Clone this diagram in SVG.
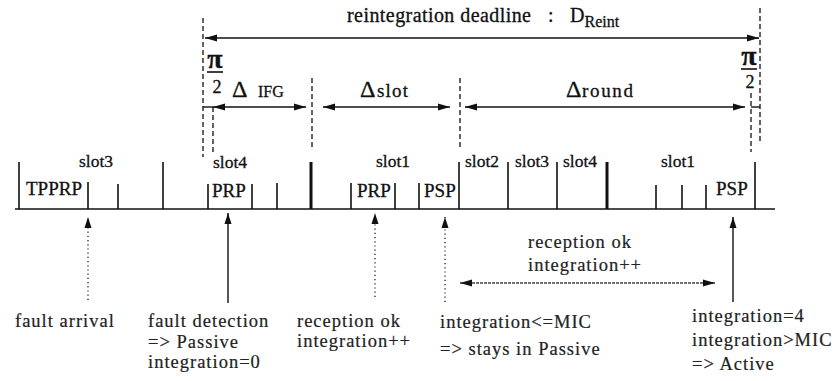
<svg xmlns="http://www.w3.org/2000/svg" width="838" height="381" viewBox="0 0 838 381">
<style>
text{font-family:"Liberation Serif","Times New Roman",serif;fill:#111;stroke:#111;stroke-width:0.3}
.slot{font-size:17.5px}
.fr{font-size:19px}
.lab{font-size:18.5px;letter-spacing:1px;fill:#222;stroke:#222;stroke-width:0.2}
.delta{font-size:24px}
.tk{stroke:#111;stroke-width:1.6}
.thick{stroke:#111;stroke-width:3}
.dash{stroke:#111;stroke-width:1.3;stroke-dasharray:5,3;fill:none}
.dim{stroke:#111;stroke-width:1.4;fill:none}
.dot{stroke:#333;stroke-width:1.4;stroke-dasharray:1.2,3;fill:none}
</style>
<defs>
<marker id="ah" markerUnits="userSpaceOnUse" markerWidth="13" markerHeight="8" refX="12" refY="4" orient="auto-start-reverse" viewBox="0 0 13 8">
<path d="M0,0.5 L12,4 L0,7.5 z" fill="#111"/>
</marker>
<marker id="av" markerUnits="userSpaceOnUse" markerWidth="8" markerHeight="12" refX="4" refY="0" orient="0" viewBox="0 0 8 12">
<path d="M4,0 L7.5,11 L0.5,11 z" fill="#111"/>
</marker>
</defs>
<rect width="838" height="381" fill="#fff"/>

<g id="timeline">
<line x1="15" y1="209" x2="775" y2="209" class="tk"/>
<g id="ticks-tall">
<line x1="19" y1="162" x2="19" y2="209" class="tk"/>
<line x1="163" y1="162" x2="163" y2="209" class="tk"/>
<line x1="311" y1="162" x2="311" y2="209" class="thick"/>
<line x1="459" y1="162" x2="459" y2="209" class="tk"/>
<line x1="508" y1="162" x2="508" y2="209" class="tk"/>
<line x1="557" y1="162" x2="557" y2="209" class="tk"/>
<line x1="607" y1="162" x2="607" y2="209" class="thick"/>
<line x1="755" y1="162" x2="755" y2="209" class="tk"/>
</g>
<g id="ticks-short">
<line x1="88" y1="182" x2="88" y2="209" class="tk"/>
<line x1="118" y1="184" x2="118" y2="209" class="tk"/>
<line x1="208" y1="184" x2="208" y2="209" class="tk"/>
<line x1="252" y1="184" x2="252" y2="209" class="tk"/>
<line x1="277" y1="183" x2="277" y2="209" class="tk"/>
<line x1="351" y1="183" x2="351" y2="209" class="tk"/>
<line x1="395" y1="183" x2="395" y2="209" class="tk"/>
<line x1="419" y1="183" x2="419" y2="209" class="tk"/>
<line x1="656" y1="185" x2="656" y2="209" class="tk"/>
<line x1="682" y1="185" x2="682" y2="209" class="tk"/>
<line x1="706" y1="185" x2="706" y2="209" class="tk"/>
</g>
</g>

<g id="slot-labels">
<text class="slot" x="79" y="167">slot3</text>
<text class="slot" x="213" y="168">slot4</text>
<text class="slot" x="376" y="167">slot1</text>
<text class="slot" x="465" y="167">slot2</text>
<text class="slot" x="515" y="167">slot3</text>
<text class="slot" x="563" y="167">slot4</text>
<text class="slot" x="661" y="167">slot1</text>
<text class="fr" x="26" y="195">TPPRP</text>
<text class="fr" x="212" y="197">PRP</text>
<text class="fr" x="357" y="197">PRP</text>
<text class="fr" x="424" y="197">PSP</text>
<text class="fr" x="716" y="195">PSP</text>
</g>

<g id="guides">
<line x1="203" y1="18" x2="203" y2="157" class="dash"/>
<line x1="213" y1="107" x2="213" y2="152" class="dash"/>
<line x1="312" y1="78" x2="312" y2="147" class="dash"/>
<line x1="460" y1="78" x2="460" y2="147" class="dash"/>
<line x1="751" y1="93" x2="751" y2="152" class="dash"/>
<line x1="760" y1="8" x2="760" y2="142" class="dash"/>
</g>

<g id="connectors">
<line x1="205" y1="38" x2="759" y2="38" class="dim" marker-start="url(#ah)" marker-end="url(#ah)"/>
<line x1="203" y1="107" x2="213" y2="107" class="dim"/>
<line x1="213" y1="107" x2="306" y2="107" class="dim" marker-start="url(#ah)" marker-end="url(#ah)"/>
<line x1="323" y1="107" x2="450" y2="107" class="dim" marker-start="url(#ah)" marker-end="url(#ah)"/>
<line x1="465" y1="107" x2="745" y2="107" class="dim" marker-start="url(#ah)" marker-end="url(#ah)"/>
<line x1="751" y1="107" x2="760" y2="107" class="dim"/>
<line x1="88" y1="300" x2="88" y2="217" class="dot" marker-end="url(#av)"/>
<line x1="228" y1="303" x2="228" y2="213" class="dim" marker-end="url(#av)"/>
<line x1="375" y1="297" x2="375" y2="213" class="dot" marker-end="url(#av)"/>
<line x1="445" y1="302" x2="445" y2="217" class="dot" marker-end="url(#av)"/>
<line x1="733" y1="302" x2="733" y2="217" class="dim" marker-end="url(#av)"/>
<line x1="460" y1="283" x2="715" y2="283" stroke="#444" stroke-width="1.3" stroke-dasharray="3,1" marker-start="url(#ah)" marker-end="url(#ah)"/>
</g>

<g id="deadline-label">
<text x="347" y="22" font-size="20" textLength="184">reintegration deadline</text>
<text x="548" y="22" font-size="20">:</text>
<text x="570" y="22" font-size="20">D<tspan font-size="16" dy="5">Reint</tspan></text>
</g>

<g id="pi-left">
<text x="215" y="68" font-size="28" font-weight="bold" text-anchor="middle">π</text>
<line x1="207" y1="72" x2="223" y2="72" stroke="#111" stroke-width="1.6"/>
<text x="217" y="93" font-size="18" text-anchor="middle">2</text>
</g>
<g id="pi-right">
<text x="749" y="65" font-size="28" font-weight="bold" text-anchor="middle">π</text>
<line x1="741" y1="69" x2="757" y2="69" stroke="#111" stroke-width="1.6"/>
<text x="750" y="88" font-size="18" text-anchor="middle">2</text>
</g>

<g id="delta-labels">
<text class="delta" x="232" y="97">Δ</text>
<text x="258" y="97" font-size="16">IFG</text>
<text class="delta" x="360" y="97">Δ</text>
<text x="377" y="97" font-size="19" textLength="31">slot</text>
<text class="delta" x="566" y="97">Δ</text>
<text x="582" y="97" font-size="19" textLength="51">round</text>
</g>

<g id="event-labels">
<text class="lab" x="15" y="327">fault arrival</text>
<text class="lab" x="148" y="327">fault detection</text>
<text class="lab" x="148" y="348">=&gt; Passive</text>
<text class="lab" x="148" y="368">integration=0</text>
<text class="lab" x="297" y="327">reception ok</text>
<text class="lab" x="297" y="347">integration++</text>
<text class="lab" x="528" y="248">reception ok</text>
<text class="lab" x="528" y="271">integration++</text>
<text class="lab" x="440" y="328">integration&lt;=MIC</text>
<text class="lab" x="440" y="355">=&gt; stays in Passive</text>
<text class="lab" x="692" y="322">integration=4</text>
<text class="lab" x="692" y="346">integration&gt;MIC</text>
<text class="lab" x="692" y="370">=&gt; Active</text>
</g>
</svg>
